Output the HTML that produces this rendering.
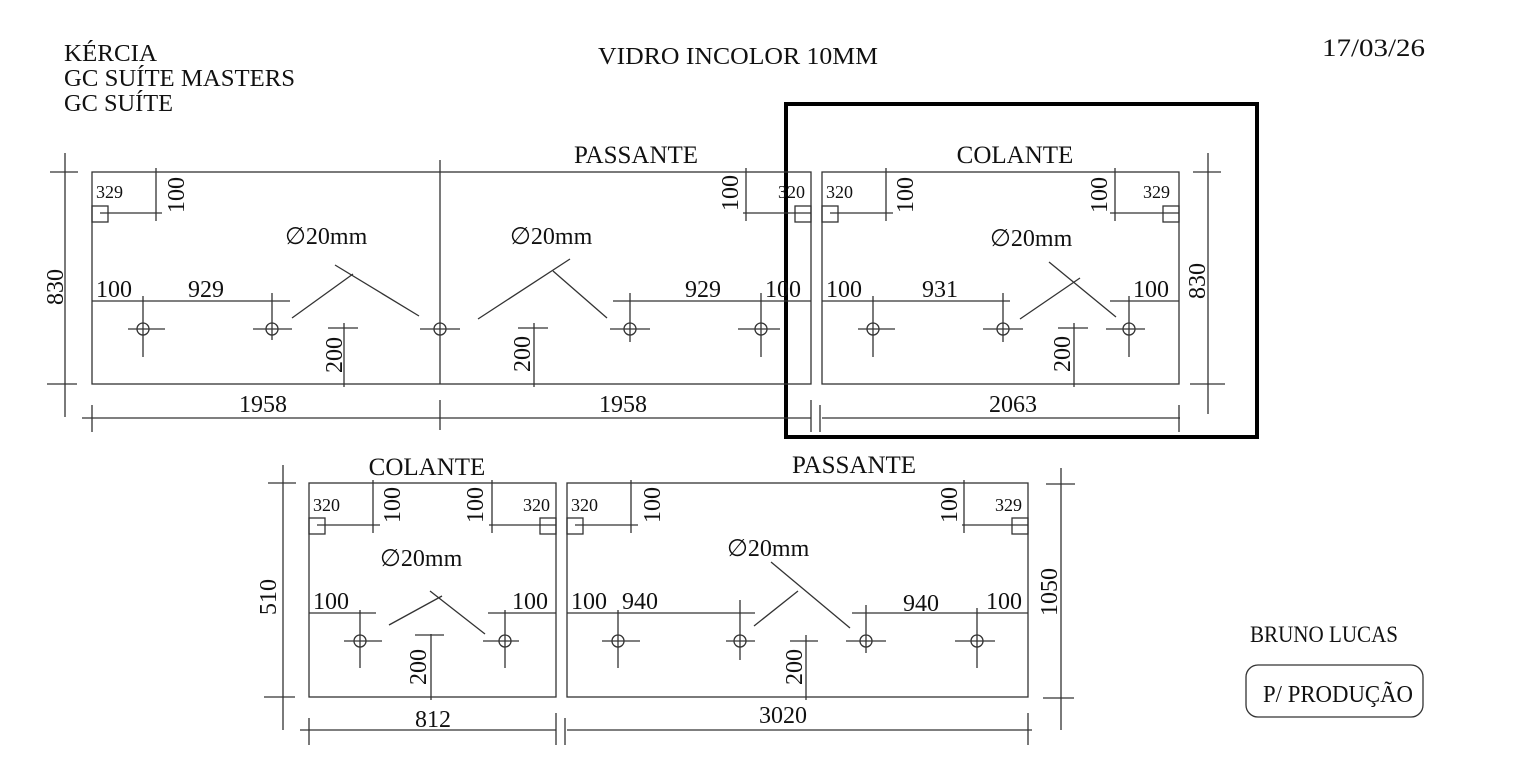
<!DOCTYPE html>
<html><head><meta charset="utf-8"><style>
html,body{margin:0;padding:0;background:#fff;}
svg{display:block;}
text{font-family:"Liberation Serif",serif;fill:#111;}
.l{stroke:#333;stroke-width:1.3;fill:none;}
.t{font-size:24px;}
.s{font-size:18px;}
</style></head><body>
<svg width="1535" height="767" viewBox="0 0 1535 767" xmlns="http://www.w3.org/2000/svg">
<!-- header -->
<text x="64" y="61" font-size="24" textLength="93" lengthAdjust="spacingAndGlyphs">KÉRCIA</text>
<text x="64" y="86" font-size="24" textLength="231" lengthAdjust="spacingAndGlyphs">GC SUÍTE MASTERS</text>
<text x="64" y="111" font-size="24" textLength="109" lengthAdjust="spacingAndGlyphs">GC SUÍTE</text>
<text x="598" y="64" font-size="24" textLength="280" lengthAdjust="spacingAndGlyphs">VIDRO INCOLOR 10MM</text>
<text x="1322" y="56" font-size="25" textLength="103" lengthAdjust="spacingAndGlyphs">17/03/26</text>
<text x="1250" y="642" font-size="23" textLength="148" lengthAdjust="spacingAndGlyphs">BRUNO LUCAS</text>
<rect x="1246" y="665" width="177" height="52" rx="12" class="l"/>
<text x="1263" y="702" font-size="24" textLength="150" lengthAdjust="spacingAndGlyphs">P/ PRODUÇÃO</text>

<!-- black highlight box -->
<rect x="786" y="104" width="471" height="333" fill="none" stroke="#000" stroke-width="4"/>

<g class="l">
<rect x="92" y="172" width="719" height="212"/>
<line x1="440" y1="160" x2="440" y2="384"/>
<rect x="822" y="172" width="357" height="212"/>
<line x1="65" y1="153" x2="65" y2="417"/><line x1="50" y1="172" x2="78" y2="172"/><line x1="47" y1="384" x2="77" y2="384"/>
<line x1="1208" y1="153" x2="1208" y2="414"/><line x1="1193" y1="172" x2="1221" y2="172"/><line x1="1190" y1="384" x2="1225" y2="384"/>
<line x1="82" y1="418" x2="811" y2="418"/><line x1="822" y1="418" x2="1180" y2="418"/>
<line x1="92" y1="405" x2="92" y2="432"/><line x1="440" y1="400" x2="440" y2="430"/><line x1="811" y1="400" x2="811" y2="432"/><line x1="820" y1="405" x2="820" y2="432"/><line x1="1179" y1="405" x2="1179" y2="432"/>
<rect x="92" y="206" width="16" height="16"/><line x1="100" y1="213" x2="162" y2="213"/><line x1="156" y1="168" x2="156" y2="221"/>
<line x1="92" y1="301" x2="290" y2="301"/>
<line x1="128" y1="329" x2="165" y2="329"/><line x1="143" y1="296" x2="143" y2="357"/><circle cx="143" cy="329" r="6"/>
<line x1="253" y1="329" x2="292" y2="329"/><line x1="272" y1="293" x2="272" y2="340"/><circle cx="272" cy="329" r="6"/>
<line x1="420" y1="329" x2="460" y2="329"/><circle cx="440" cy="329" r="6"/>
<line x1="292" y1="318" x2="353" y2="274"/><line x1="335" y1="265" x2="419" y2="316"/>
<line x1="344" y1="323" x2="344" y2="387"/><line x1="328" y1="328" x2="358" y2="328"/>
<rect x="795" y="206" width="16" height="16"/><line x1="743" y1="213" x2="811" y2="213"/><line x1="746" y1="168" x2="746" y2="221"/>
<line x1="613" y1="301" x2="811" y2="301"/>
<line x1="610" y1="329" x2="650" y2="329"/><line x1="630" y1="293" x2="630" y2="342"/><circle cx="630" cy="329" r="6"/>
<line x1="738" y1="329" x2="780" y2="329"/><line x1="761" y1="293" x2="761" y2="357"/><circle cx="761" cy="329" r="6"/>
<line x1="478" y1="319" x2="570" y2="259"/><line x1="553" y1="271" x2="607" y2="318"/>
<line x1="534" y1="323" x2="534" y2="387"/><line x1="518" y1="328" x2="548" y2="328"/>
<rect x="822" y="206" width="16" height="16"/><line x1="830" y1="213" x2="893" y2="213"/><line x1="886" y1="168" x2="886" y2="221"/>
<rect x="1163" y="206" width="16" height="16"/><line x1="1110" y1="213" x2="1179" y2="213"/><line x1="1115" y1="168" x2="1115" y2="221"/>
<line x1="822" y1="301" x2="1010" y2="301"/><line x1="1110" y1="301" x2="1179" y2="301"/>
<line x1="858" y1="329" x2="895" y2="329"/><line x1="873" y1="296" x2="873" y2="357"/><circle cx="873" cy="329" r="6"/>
<line x1="983" y1="329" x2="1023" y2="329"/><line x1="1003" y1="293" x2="1003" y2="342"/><circle cx="1003" cy="329" r="6"/>
<line x1="1106" y1="329" x2="1145" y2="329"/><line x1="1129" y1="296" x2="1129" y2="357"/><circle cx="1129" cy="329" r="6"/>
<line x1="1020" y1="319" x2="1080" y2="278"/><line x1="1049" y1="262" x2="1116" y2="317"/>
<line x1="1074" y1="323" x2="1074" y2="387"/><line x1="1058" y1="328" x2="1088" y2="328"/>

<rect x="309" y="483" width="247" height="214"/>
<rect x="567" y="483" width="461" height="214"/>
<line x1="283" y1="465" x2="283" y2="730"/><line x1="268" y1="483" x2="296" y2="483"/><line x1="264" y1="697" x2="295" y2="697"/>
<line x1="1061" y1="468" x2="1061" y2="730"/><line x1="1046" y1="484" x2="1075" y2="484"/><line x1="1043" y1="698" x2="1074" y2="698"/>
<line x1="300" y1="730" x2="556" y2="730"/><line x1="567" y1="730" x2="1032" y2="730"/>
<line x1="309" y1="718" x2="309" y2="745"/><line x1="556" y1="713" x2="556" y2="745"/><line x1="565" y1="718" x2="565" y2="745"/><line x1="1028" y1="713" x2="1028" y2="745"/>
<rect x="309" y="518" width="16" height="16"/><line x1="317" y1="525" x2="380" y2="525"/><line x1="373" y1="480" x2="373" y2="533"/>
<rect x="540" y="518" width="16" height="16"/><line x1="489" y1="525" x2="556" y2="525"/><line x1="492" y1="480" x2="492" y2="533"/>
<line x1="309" y1="613" x2="376" y2="613"/><line x1="488" y1="613" x2="556" y2="613"/>
<line x1="344" y1="641" x2="382" y2="641"/><line x1="360" y1="610" x2="360" y2="668"/><circle cx="360" cy="641" r="6"/>
<line x1="483" y1="641" x2="519" y2="641"/><line x1="505" y1="610" x2="505" y2="668"/><circle cx="505" cy="641" r="6"/>
<line x1="389" y1="625" x2="442" y2="596"/><line x1="430" y1="591" x2="485" y2="634"/>
<line x1="431" y1="634" x2="431" y2="700"/><line x1="415" y1="635" x2="444" y2="635"/>
<rect x="567" y="518" width="16" height="16"/><line x1="575" y1="525" x2="638" y2="525"/><line x1="631" y1="480" x2="631" y2="533"/>
<rect x="1012" y="518" width="16" height="16"/><line x1="962" y1="525" x2="1028" y2="525"/><line x1="964" y1="480" x2="964" y2="533"/>
<line x1="567" y1="613" x2="755" y2="613"/><line x1="852" y1="613" x2="1028" y2="613"/>
<line x1="602" y1="641" x2="640" y2="641"/><line x1="618" y1="610" x2="618" y2="668"/><circle cx="618" cy="641" r="6"/>
<line x1="726" y1="641" x2="755" y2="641"/><line x1="740" y1="600" x2="740" y2="660"/><circle cx="740" cy="641" r="6"/>
<line x1="846" y1="641" x2="886" y2="641"/><line x1="866" y1="605" x2="866" y2="653"/><circle cx="866" cy="641" r="6"/>
<line x1="955" y1="641" x2="995" y2="641"/><line x1="977" y1="608" x2="977" y2="668"/><circle cx="977" cy="641" r="6"/>
<line x1="754" y1="626" x2="798" y2="591"/><line x1="771" y1="562" x2="850" y2="628"/>
<line x1="806" y1="635" x2="806" y2="700"/><line x1="790" y1="641" x2="818" y2="641"/>
</g>

<text x="636" y="163" font-size="25" text-anchor="middle">PASSANTE</text>
<text x="1015" y="163" font-size="25" text-anchor="middle">COLANTE</text>
<text x="427" y="475" font-size="25" text-anchor="middle">COLANTE</text>
<text x="854" y="473" font-size="25" text-anchor="middle">PASSANTE</text>

<text class="s" x="96" y="198">329</text>
<text class="s" x="778" y="198">320</text>
<text class="s" x="826" y="198">320</text>
<text class="s" x="1143" y="198">329</text>
<text class="s" x="313" y="511">320</text>
<text class="s" x="523" y="511">320</text>
<text class="s" x="571" y="511">320</text>
<text class="s" x="995" y="511">329</text>

<g font-size="24">
<text x="285" y="244">∅20mm</text>
<text x="510" y="244">∅20mm</text>
<text x="990" y="246">∅20mm</text>
<text x="380" y="566">∅20mm</text>
<text x="727" y="556">∅20mm</text>
</g>

<g class="t">
<text x="96" y="297">100</text><text x="188" y="297">929</text>
<text x="685" y="297">929</text><text x="765" y="297">100</text>
<text x="826" y="297">100</text><text x="922" y="297">931</text><text x="1133" y="297">100</text>
<text x="263" y="412" text-anchor="middle">1958</text>
<text x="623" y="412" text-anchor="middle">1958</text>
<text x="1013" y="412" text-anchor="middle">2063</text>
<text x="313" y="609">100</text><text x="512" y="609">100</text>
<text x="571" y="609">100</text><text x="622" y="609">940</text>
<text x="903" y="611">940</text><text x="986" y="609">100</text>
<text x="433" y="727" text-anchor="middle">812</text>
<text x="783" y="723" text-anchor="middle">3020</text>
</g>

<g class="t" text-anchor="middle">
<text x="63" y="287" transform="rotate(-90 63 287)">830</text>
<text x="184" y="195" transform="rotate(-90 184 195)">100</text>
<text x="342" y="355" transform="rotate(-90 342 355)">200</text>
<text x="738" y="193" transform="rotate(-90 738 193)">100</text>
<text x="530" y="354" transform="rotate(-90 530 354)">200</text>
<text x="913" y="195" transform="rotate(-90 913 195)">100</text>
<text x="1107" y="195" transform="rotate(-90 1107 195)">100</text>
<text x="1070" y="354" transform="rotate(-90 1070 354)">200</text>
<text x="1205" y="281" transform="rotate(-90 1205 281)">830</text>
<text x="276" y="597" transform="rotate(-90 276 597)">510</text>
<text x="400" y="505" transform="rotate(-90 400 505)">100</text>
<text x="483" y="505" transform="rotate(-90 483 505)">100</text>
<text x="426" y="667" transform="rotate(-90 426 667)">200</text>
<text x="660" y="505" transform="rotate(-90 660 505)">100</text>
<text x="957" y="505" transform="rotate(-90 957 505)">100</text>
<text x="802" y="667" transform="rotate(-90 802 667)">200</text>
<text x="1057" y="592" transform="rotate(-90 1057 592)">1050</text>
</g>
</svg>
</body></html>
